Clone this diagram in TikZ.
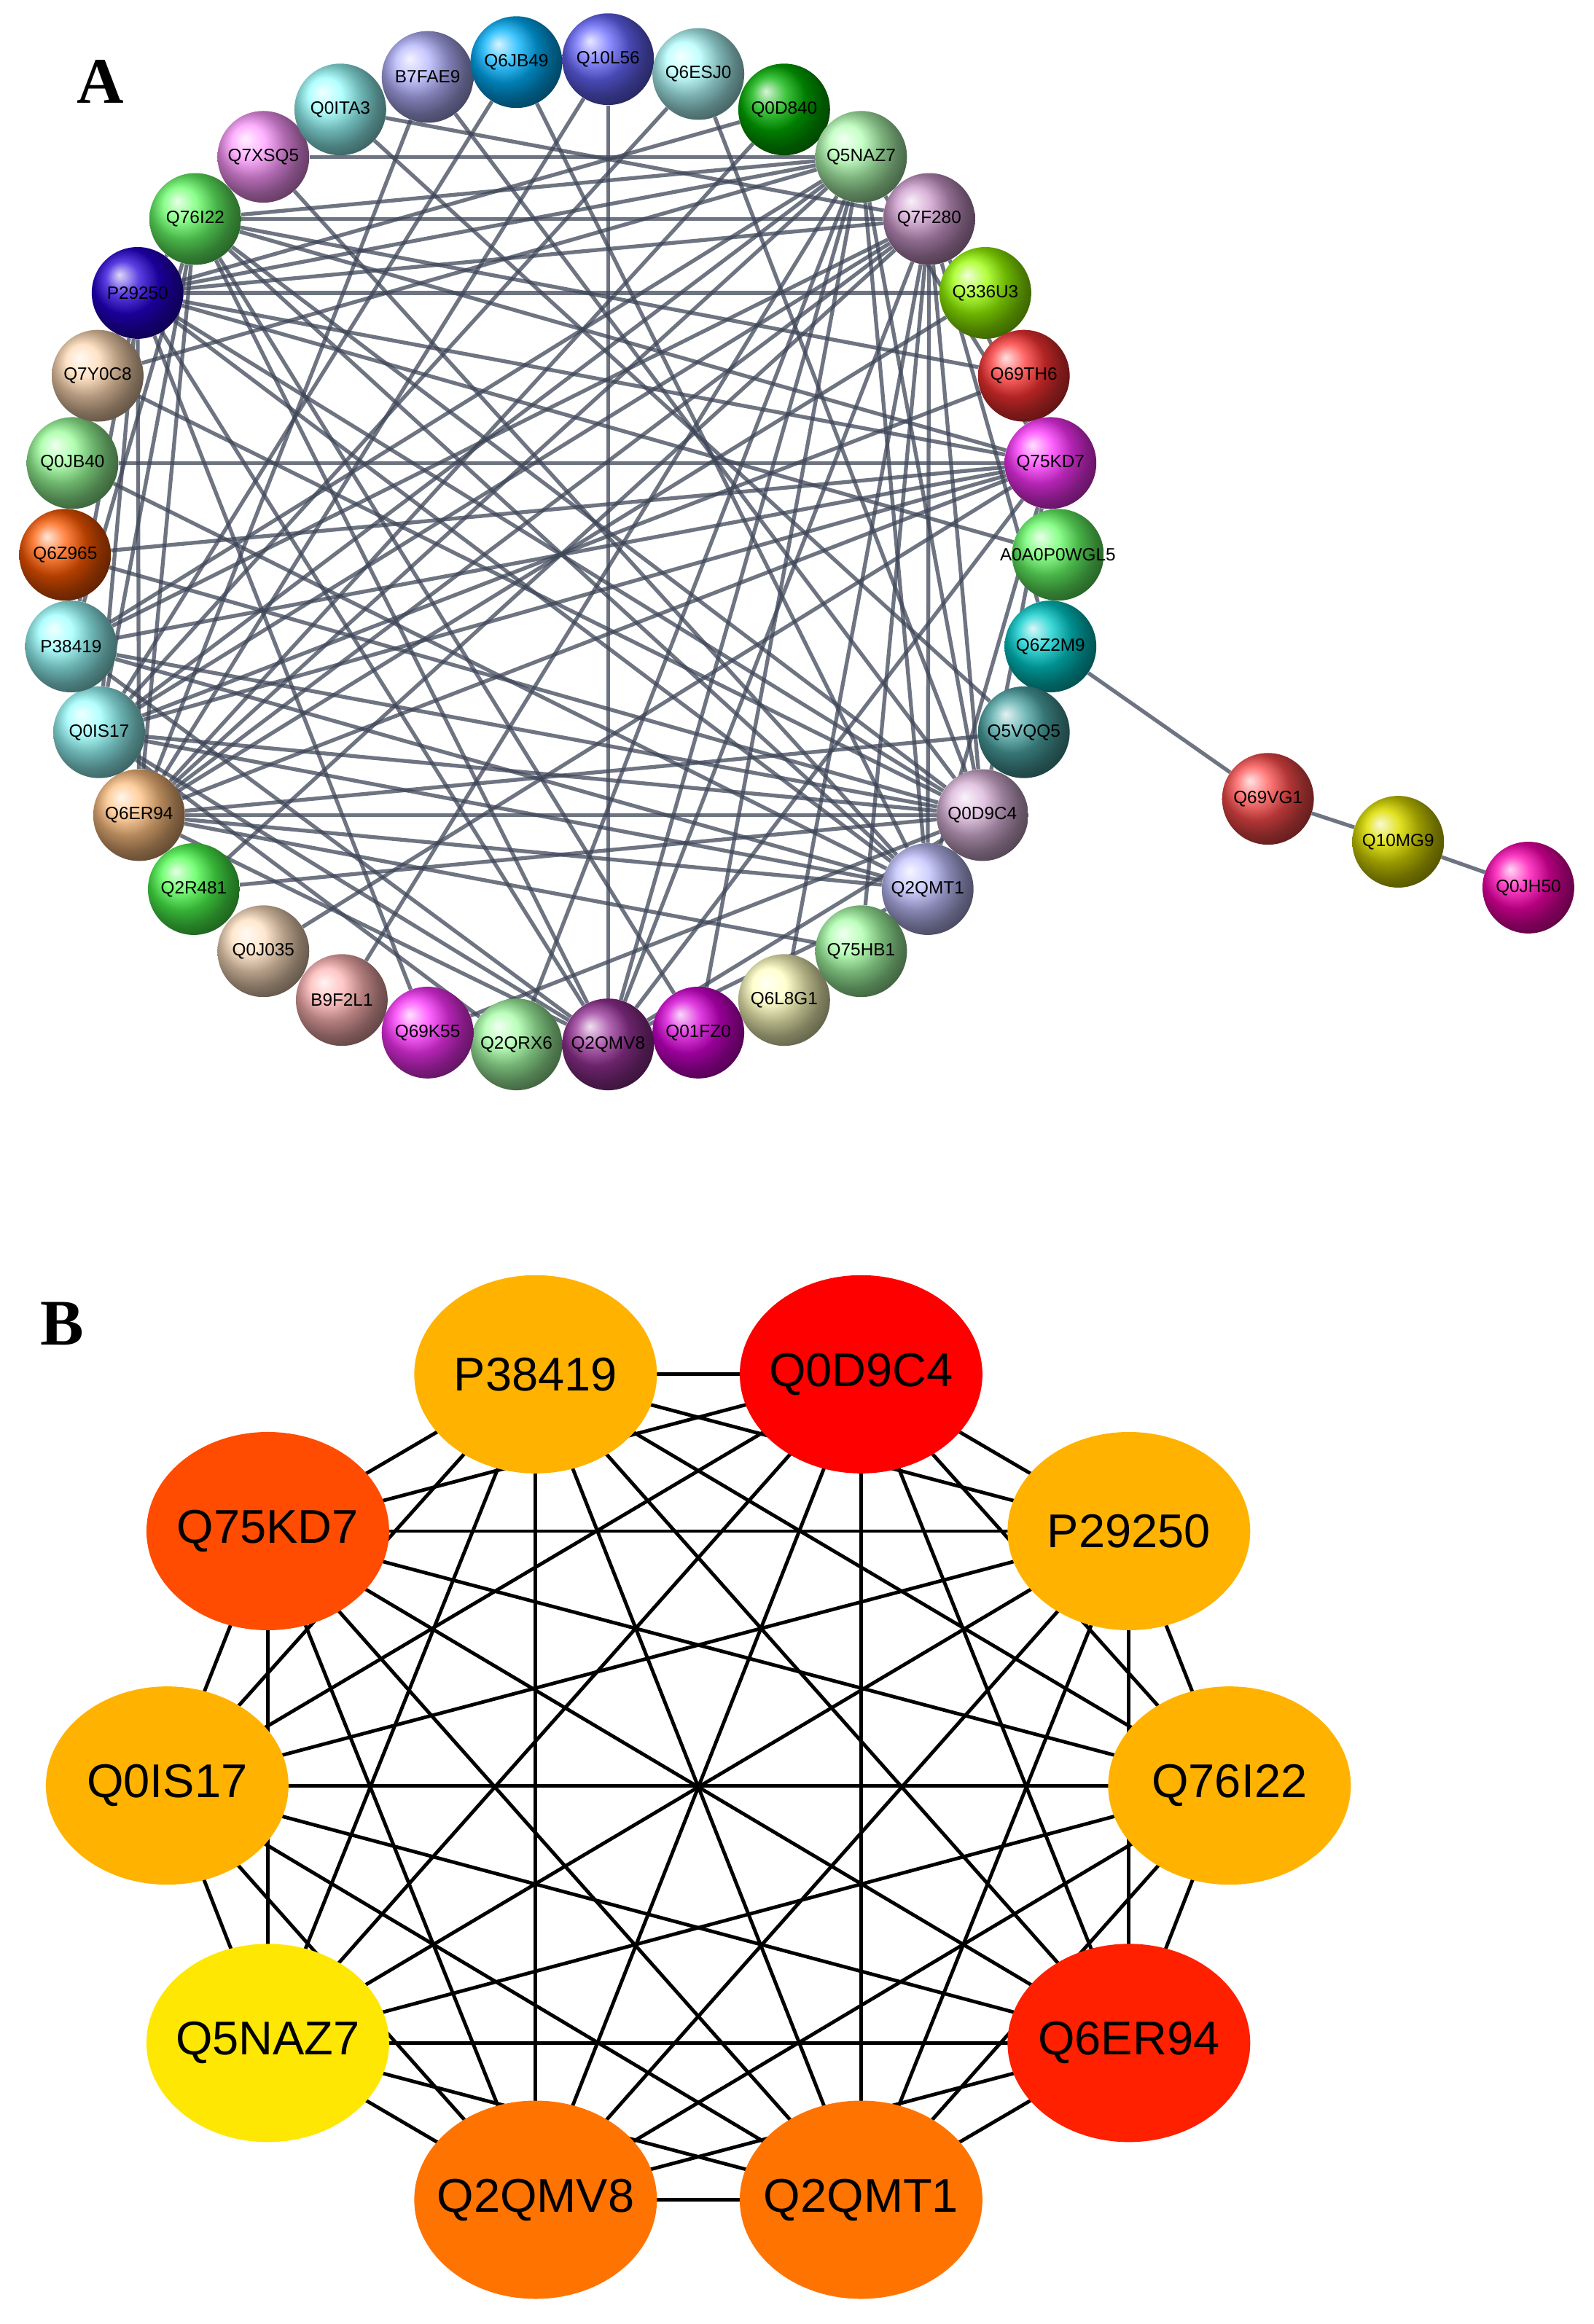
\documentclass[tikz,border=0pt]{standalone}
\usepackage{fontspec}
\setmainfont{Liberation Sans}
\newfontfamily\serifb{Liberation Serif}
\usetikzlibrary{shapes.geometric}
\pgfdeclarelayer{back}\pgfdeclarelayer{bg}\pgfsetlayers{back,bg,main}
\definecolor{edgecol}{HTML}{3E4658}
\begin{document}
\begin{tikzpicture}[x=1pt,y=-1pt,
  ball/.style={circle,minimum size=62pt,inner sep=0pt,shading=ball,ball color=#1},
  lab/.style={font=\fontsize{12}{12}\selectfont,inner sep=0pt},
  edgeA/.style={draw=edgecol,line width=2.6pt,opacity=0.75},
  ell/.style={ellipse,minimum width=164pt,minimum height=134pt,inner sep=0pt,fill=#1},
  edgeB/.style={draw=black,line width=2.4pt},
  panel/.style={font=\serifb\fontsize{44}{44}\selectfont\bfseries}]
\useasboundingbox (0,0) rectangle (1077,1571);
\begin{pgfonlayer}{back}\fill[white] (0,0) rectangle (1077,1571);\end{pgfonlayer}
\node[panel] (lA) at (68,55) {A};
\node[panel] (lB) at (42,895) {B};
% Panel A nodes
\foreach \n/\x/\y/\c in {
B7FAE9/289/52/blue!30,Q6JB49/349/42/cyan!70!blue,Q10L56/411/40/blue!60,Q6ESJ0/472/50/cyan!30,
Q0D840/530/74/green!70!black,Q5NAZ7/582/106/green!30,Q7F280/628/148/violet!40,Q336U3/666/198/yellow!60!green,
Q69TH6/692/254/red!80,Q75KD7/710/313/magenta!80,A0A0P0WGL5/715/375/green!60,Q6Z2M9/710/437/cyan!80!black,
Q5VQQ5/692/495/teal!70,Q0D9C4/664/551/violet!30,Q2QMT1/627/601/blue!25,Q75HB1/582/643/green!35,
Q6L8G1/530/676/yellow!25,Q01FZ0/472/698/magenta!70!violet,Q2QMV8/411/706/violet!80,Q2QRX6/349/706/green!35,
Q69K55/289/698/magenta!80,B9F2L1/231/676/red!30,Q0J035/178/643/orange!25,Q2R481/131/601/green!70,
Q6ER94/94/551/orange!50,Q0IS17/67/495/cyan!40,P38419/48/437/cyan!40,Q6Z965/44/375/orange!70!red,
Q0JB40/49/313/green!40,Q7Y0C8/66/254/orange!30,P29250/93/198/blue!70!violet,Q76I22/132/148/green!60,
Q7XSQ5/178/106/magenta!40,Q0ITA3/230/74/cyan!40,
Q69VG1/857/540/red!70,Q10MG9/945/569/yellow!70!olive,Q0JH50/1033/600/magenta!70!red}
  {\node[ball=\c] (\n) at (\x,\y) {}; \node[lab] at (\n) {\n};}
\begin{pgfonlayer}{bg}
\foreach \a/\b in {P29250/Q76I22,P29250/Q75KD7,P29250/Q7F280,P29250/Q5NAZ7,P29250/Q0D9C4,P29250/Q2QMT1,P29250/Q2QMV8,P29250/Q6ER94,P29250/Q0IS17,P29250/P38419,
Q76I22/Q75KD7,Q76I22/Q7F280,Q76I22/Q5NAZ7,Q76I22/Q0D9C4,Q76I22/Q2QMT1,Q76I22/Q2QMV8,Q76I22/Q6ER94,Q76I22/Q0IS17,Q76I22/P38419,
Q75KD7/Q7F280,Q75KD7/Q5NAZ7,Q75KD7/Q0D9C4,Q75KD7/Q2QMT1,Q75KD7/Q2QMV8,Q75KD7/Q6ER94,Q75KD7/Q0IS17,Q75KD7/P38419,
Q7F280/Q5NAZ7,Q7F280/Q0D9C4,Q7F280/Q2QMT1,Q7F280/Q2QMV8,Q7F280/Q6ER94,Q7F280/Q0IS17,Q7F280/P38419,
Q5NAZ7/Q0D9C4,Q5NAZ7/Q2QMT1,Q5NAZ7/Q2QMV8,Q5NAZ7/Q6ER94,Q5NAZ7/Q0IS17,Q5NAZ7/P38419,
Q0D9C4/Q2QMT1,Q0D9C4/Q2QMV8,Q0D9C4/Q6ER94,Q0D9C4/Q0IS17,Q0D9C4/P38419,
Q2QMT1/Q2QMV8,Q2QMT1/Q6ER94,Q2QMT1/Q0IS17,Q2QMT1/P38419,
Q2QMV8/Q6ER94,Q2QMV8/Q0IS17,Q2QMV8/P38419,Q6ER94/Q0IS17,Q6ER94/P38419,Q0IS17/P38419,
Q0ITA3/Q7F280,Q0ITA3/Q5VQQ5,Q7XSQ5/Q5NAZ7,Q7XSQ5/Q2QMT1,B7FAE9/Q0D9C4,B7FAE9/Q6ER94,Q6JB49/Q2QMT1,Q6JB49/Q0IS17,
Q10L56/Q6ER94,Q10L56/Q2QMV8,Q6ESJ0/Q0IS17,Q6ESJ0/Q0D9C4,Q0D840/P29250,Q0D840/Q6ER94,Q336U3/Q6ER94,Q336U3/P29250,
Q69TH6/Q0IS17,Q69TH6/Q76I22,Q6Z2M9/Q7F280,Q6Z2M9/Q69VG1,Q5VQQ5/Q6ER94,Q75HB1/Q6ER94,Q75HB1/Q7F280,Q6L8G1/Q7F280,
Q01FZ0/Q5NAZ7,Q01FZ0/Q76I22,Q2QRX6/Q0IS17,Q2QRX6/Q5NAZ7,Q69K55/P29250,Q69K55/Q0D9C4,B9F2L1/Q5NAZ7,Q0J035/Q75KD7,
Q2R481/Q7F280,Q2R481/Q0D9C4,Q6Z965/Q75KD7,Q6Z965/Q0D9C4,Q0JB40/Q75KD7,Q0JB40/Q2QMT1,Q7Y0C8/Q0D9C4,Q7Y0C8/Q5NAZ7,
A0A0P0WGL5/P29250,Q69VG1/Q10MG9,Q10MG9/Q0JH50}
  {\draw[edgeA] (\a) -- (\b);}
\end{pgfonlayer}
% Panel B
\definecolor{bor}{HTML}{FFB300}
\foreach \n/\x/\y/\c in {BP38419/362/929/bor,BQ0D9C4/582/929/red,BQ75KD7/181/1035/{orange!60!red},
BP29250/763/1035/bor,BQ0IS17/113/1207/bor,BQ76I22/831/1207/bor,
BQ5NAZ7/181/1381/{yellow!90!orange},BQ6ER94/763/1381/{red!75!orange},BQ2QMV8/362/1487/{orange!90!red},BQ2QMT1/582/1487/{orange!90!red}}
 {\node[ell=\c] (\n) at (\x,\y) {};}
\foreach \n in {P38419,Q0D9C4,Q75KD7,P29250,Q0IS17,Q76I22,Q5NAZ7,Q6ER94,Q2QMV8,Q2QMT1}
 {\node[font=\fontsize{32}{32}\selectfont] at (B\n) {\n};}
\begin{pgfonlayer}{bg}
\foreach \a [count=\i] in {P38419,Q0D9C4,P29250,Q76I22,Q6ER94,Q2QMT1,Q2QMV8,Q5NAZ7,Q0IS17,Q75KD7}
 \foreach \b [count=\j] in {P38419,Q0D9C4,P29250,Q76I22,Q6ER94,Q2QMT1,Q2QMV8,Q5NAZ7,Q0IS17,Q75KD7}
  {\ifnum\i<\j \draw[edgeB] (B\a.center) -- (B\b.center);\fi}
\end{pgfonlayer}
\end{tikzpicture}
\end{document}
